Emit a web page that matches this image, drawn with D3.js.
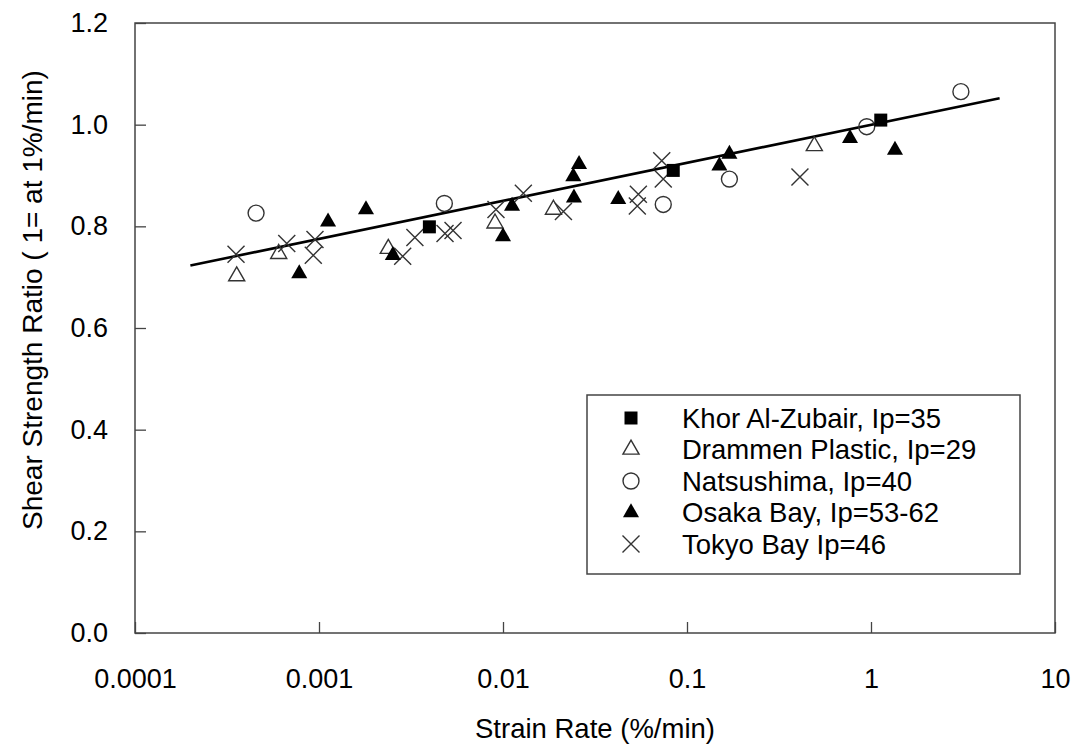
<!DOCTYPE html>
<html>
<head>
<meta charset="utf-8">
<script src="https://cdn.jsdelivr.net/npm/d3@7"></script>
<style>
  body { margin: 0; background: #fff; }
  text { font-family: Arial, "Liberation Sans", sans-serif; fill: #000; }
</style>
</head>
<body>
<svg id="svg" width="1077" height="747"></svg>
<script>
// values (strain rate %/min, strength ratio)
const khorX = [0.00398, 0.0842, 1.13]
const khorY = [0.799, 0.910, 1.009]

const drammenX = [0.000357, 0.000604, 0.00238, 0.00905, 0.0188, 0.492]
const drammenY = [0.702, 0.746, 0.756, 0.806, 0.833, 0.958]

const natsuX = [0.000455, 0.0048, 0.0743, 0.170, 0.948, 3.08]
const natsuY = [0.826, 0.845, 0.843, 0.893, 0.996, 1.065]

const osakaX = [0.000781, 0.00112, 0.0018, 0.00252, 0.0100, 0.0112, 0.0241, 0.0259, 0.0243, 0.0423, 0.150, 0.170, 0.769, 1.35]
const osakaY = [0.707, 0.809, 0.833, 0.743, 0.780, 0.840, 0.898, 0.922, 0.856, 0.853, 0.919, 0.942, 0.973, 0.950]

const tokyoX = [0.000354, 0.000668, 0.000951, 0.000931, 0.00285, 0.00332, 0.00484, 0.00535, 0.00916, 0.0129, 0.0213, 0.0537, 0.0544, 0.0729, 0.0743, 0.411]
const tokyoY = [0.745, 0.766, 0.774, 0.743, 0.741, 0.778, 0.786, 0.792, 0.833, 0.865, 0.829, 0.840, 0.863, 0.929, 0.893, 0.897]

// fitted line end points
const fitX = [0.0002, 5]
const fitY = [0.723, 1.052]

const xTicks = [0.0001, 0.001, 0.01, 0.1, 1, 10]
const xTickLabels = ['0.0001', '0.001', '0.01', '0.1', '1', '10']
const yTicks = [0, 0.2, 0.4, 0.6, 0.8, 1.0, 1.2]
const yTickLabels = ['0.0', '0.2', '0.4', '0.6', '0.8', '1.0', '1.2']

const seriesNames = ['Khor Al-Zubair, Ip=35', 'Drammen Plastic, Ip=29', 'Natsushima, Ip=40', 'Osaka Bay, Ip=53-62', 'Tokyo Bay Ip=46']

const margin = { top: 23, right: 22, bottom: 114, left: 135 }
const width = 1077 - margin.left - margin.right
const height = 747 - margin.top - margin.bottom

const svg = d3.select('#svg')
const g = svg.append('g').attr('transform', `translate(${margin.left},${margin.top})`)

const x = d3.scaleLog().domain([0.0001, 10]).range([0, width])
const y = d3.scaleLinear().domain([0, 1.2]).range([height, 0])

// plot frame
g.append('rect')
  .attr('width', width).attr('height', height)
  .attr('fill', 'none').attr('stroke', '#444').attr('stroke-width', 1.5)

const xAxis = d3.axisBottom(x)
  .tickValues(xTicks)
  .tickFormat((d, i) => xTickLabels[i])
  .tickSize(-11)
  .tickPadding(36)
g.append('g')
  .attr('transform', `translate(0,${height})`)
  .call(xAxis)
  .call(a => a.select('.domain').remove())
  .call(a => a.selectAll('line').attr('stroke', '#444').attr('stroke-width', 1.3))
  .call(a => a.selectAll('text').attr('font-size', 27).attr('fill', '#000'))

const yAxis = d3.axisLeft(y)
  .tickValues(yTicks)
  .tickFormat((d, i) => yTickLabels[i])
  .tickSize(-11)
  .tickPadding(27)
g.append('g')
  .call(yAxis)
  .call(a => a.select('.domain').remove())
  .call(a => a.selectAll('line').attr('stroke', '#444').attr('stroke-width', 1.3))
  .call(a => a.selectAll('text').attr('font-size', 27).attr('fill', '#000'))

// axis titles
svg.append('text')
  .attr('x', margin.left + width / 2).attr('y', 738)
  .attr('text-anchor', 'middle').attr('font-size', 27.5)
  .text('Strain Rate (%/min)')

svg.append('text')
  .attr('transform', `translate(42,${margin.top + height / 2 - 28}) rotate(-90)`)
  .attr('text-anchor', 'middle').attr('font-size', 28)
  .text('Shear Strength Ratio ( 1= at 1%/min)')

// fitted line
g.append('line')
  .attr('x1', x(fitX[0])).attr('y1', y(fitY[0]))
  .attr('x2', x(fitX[1])).attr('y2', y(fitY[1]))
  .attr('stroke', '#000').attr('stroke-width', 2.6)

// marker drawing helpers
const square = d3.symbol().type(d3.symbolSquare).size(169)
const triangle = d3.symbol().type(d3.symbolTriangle).size(112)
const circle = d3.symbol().type(d3.symbolCircle).size(200)
const crossPath = 'M-8.5,-8.5L8.5,8.5M-8.5,8.5L8.5,-8.5'

function drawMarkers(parent, xs, ys, kind) {
  const pts = xs.map((v, i) => [v, ys[i]])
  const sel = parent.append('g').selectAll('path').data(pts).enter().append('path')
    .attr('transform', d => `translate(${x(d[0])},${y(d[1])})`)
  styleMarker(sel, kind)
}

function styleMarker(sel, kind) {
  if (kind === 'square') sel.attr('d', square()).attr('fill', '#000')
  if (kind === 'tri') sel.attr('d', triangle()).attr('fill', '#000')
  if (kind === 'opentri') sel.attr('d', triangle()).attr('fill', 'none').attr('stroke', '#333').attr('stroke-width', 1.4)
  if (kind === 'circle') sel.attr('d', circle()).attr('fill', 'none').attr('stroke', '#333').attr('stroke-width', 1.4)
  if (kind === 'cross') sel.attr('d', crossPath).attr('fill', 'none').attr('stroke', '#333').attr('stroke-width', 1.4)
}

drawMarkers(g, tokyoX, tokyoY, 'cross')
drawMarkers(g, drammenX, drammenY, 'opentri')
drawMarkers(g, natsuX, natsuY, 'circle')
drawMarkers(g, osakaX, osakaY, 'tri')
drawMarkers(g, khorX, khorY, 'square')

// legend
const legend = svg.append('g').attr('transform', 'translate(587,395)')
legend.append('rect')
  .attr('width', 433).attr('height', 179)
  .attr('fill', '#fff').attr('stroke', '#444').attr('stroke-width', 1.5)

const kinds = ['square', 'opentri', 'circle', 'tri', 'cross']
kinds.forEach((k, i) => {
  const row = legend.append('g').attr('transform', `translate(44,${23 + i * 31.5})`)
  styleMarker(row.append('path'), k)
  row.append('text')
    .attr('x', 51).attr('dy', '0.35em')
    .attr('font-size', 27.5)
    .text(seriesNames[i])
})
</script>
</body>
</html>
